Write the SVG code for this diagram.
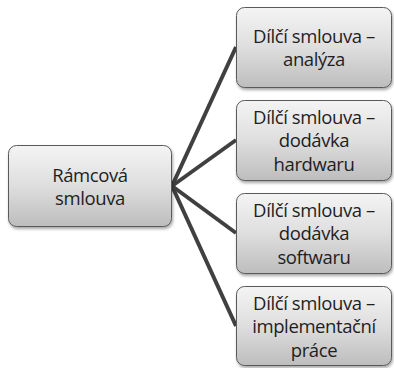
<svg xmlns="http://www.w3.org/2000/svg" width="394" height="368" viewBox="0 0 394 368">
<defs>
<linearGradient id="g" x1="0" y1="0" x2="0" y2="1">
<stop offset="0" stop-color="#f4f4f4"/>
<stop offset="0.5" stop-color="#dedede"/>
<stop offset="1" stop-color="#bdbdbd"/>
</linearGradient>
<filter id="sh" x="-10%" y="-10%" width="125%" height="130%">
<feDropShadow dx="1" dy="2" stdDeviation="1.5" flood-color="#000" flood-opacity="0.35"/>
</filter>
</defs>
<style>
.box{fill:url(#g);stroke:#5a5a5a;stroke-width:1;filter:url(#sh)}
.t{font-family:"Open Sans","Liberation Sans",sans-serif;font-size:18.5px;letter-spacing:-0.4px;fill:#1e1e1e;text-anchor:middle}
.c{stroke:#404040;stroke-width:4;fill:none;stroke-linecap:butt}
</style>
<g id="connectors">
<line class="c" x1="172" y1="186" x2="236" y2="47"/>
<line class="c" x1="172" y1="186" x2="236" y2="140"/>
<line class="c" x1="172" y1="186" x2="236" y2="233"/>
<line class="c" x1="172" y1="186" x2="236" y2="326"/>
</g>
<g id="n0">
<rect class="box" x="8.5" y="145.5" width="163" height="81" rx="8"/>
<text class="t" x="90" y="181.5">Rámcová</text>
<text class="t" x="90" y="205">smlouva</text>
</g>
<g id="n1">
<rect class="box" x="236.5" y="7.5" width="155" height="80" rx="8"/>
<text class="t" x="314" y="42.5">Dílčí smlouva –</text>
<text class="t" x="314" y="66">analýza</text>
</g>
<g id="n2">
<rect class="box" x="236.5" y="100.5" width="155" height="80" rx="8"/>
<text class="t" x="314" y="123.5">Dílčí smlouva –</text>
<text class="t" x="314" y="147">dodávka</text>
<text class="t" x="314" y="170.5">hardwaru</text>
</g>
<g id="n3">
<rect class="box" x="236.5" y="193.5" width="155" height="80" rx="8"/>
<text class="t" x="314" y="216.5">Dílčí smlouva –</text>
<text class="t" x="314" y="240">dodávka</text>
<text class="t" x="314" y="263.5">softwaru</text>
</g>
<g id="n4">
<rect class="box" x="236.5" y="286.5" width="155" height="79" rx="8"/>
<text class="t" x="314" y="309.5">Dílčí smlouva –</text>
<text class="t" x="314" y="333">implementační</text>
<text class="t" x="314" y="356.5">práce</text>
</g>
</svg>
